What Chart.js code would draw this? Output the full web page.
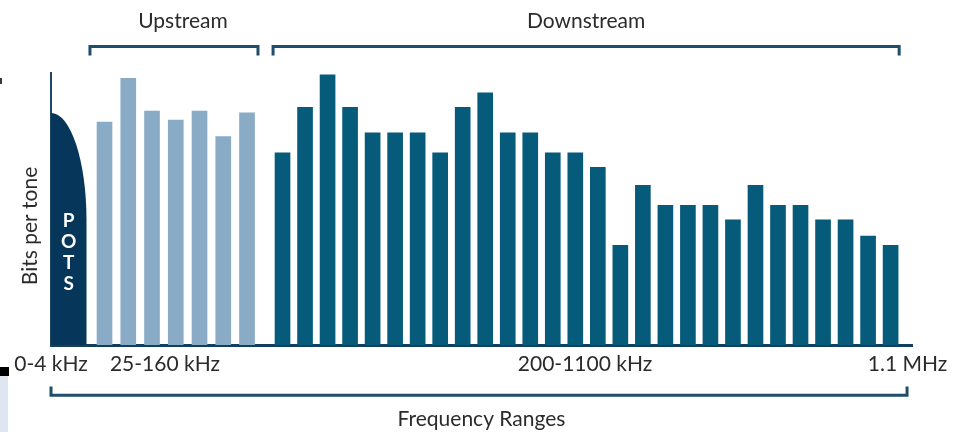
<!DOCTYPE html>
<html><head><meta charset="utf-8">
<script src="https://cdn.jsdelivr.net/npm/chart.js@4.4.1/dist/chart.umd.min.js"></script>
<style>
html,body{margin:0;padding:0;background:#fff;}
#wrap{position:relative;width:953px;height:432px;overflow:hidden;}
canvas{display:block;}
.art{position:absolute;}
</style></head><body>
<div id="wrap"><canvas id="c" width="953" height="432"></canvas>
<div class="art" style="left:0;top:367px;width:9px;height:9px;background:#000"></div>
<div class="art" style="left:0;top:376px;width:8px;height:56px;background:#dfe6f1"></div>
<div class="art" style="left:0;top:78px;width:2px;height:6px;background:#3a3a3a"></div>
</div>
<script>
// ---- data ----
const potsBits = 12.8;
const upstreamBits = [12.3, 14.7, 12.9, 12.4, 12.9, 11.5, 12.8];
const downstreamBits = [10.6, 13.1, 14.9, 13.1, 11.7, 11.7, 11.7, 10.6, 13.1, 13.9, 11.7, 11.7, 10.6, 10.6, 9.8,
                        5.5, 8.8, 7.7, 7.7, 7.7, 6.9, 8.8, 7.7, 7.7, 6.9, 6.9, 6.0, 5.5];
const xTickLabels = ['0-4 kHz', '25-160 kHz', '200-1100 kHz', '1.1 MHz'];
const groupLabels = ['Upstream', 'Downstream'];
const potsLabel = 'POTS';
const yTitle = 'Bits per tone';
const xTitle = 'Frequency Ranges';

// ---- layout (x in tone-spacing units) ----
const X_MAX = 38.23, Y_MAX = 15;
const UP_START = 2.376, UP_STEP = 1.0546, DOWN_START = 10.28, DOWN_STEP = 1;
const POTS_RIGHT = 1.576, POTS_KNEE = 6.9;
const TICK_POS = [0, 5.06, 23.71, 38.03];
const UP_BRACKET = [1.73, 9.19], DOWN_BRACKET = [9.86, 37.66], ALL_BRACKET = [0, 38.01];
const GROUP_LABEL_POS = [5.86, 23.76];
const FONT = 'Lato';
const TEXT = '#2b2b2b';
const LINE = '#1f4d6b';

const deco = {
  id: 'deco',
  beforeDatasetsDraw(chart) {
    const {ctx, scales: {x, y}} = chart;
    const x0 = x.getPixelForValue(0), x1 = x.getPixelForValue(POTS_RIGHT);
    const yTop = y.getPixelForValue(potsBits), yKnee = y.getPixelForValue(POTS_KNEE), yBase = y.getPixelForValue(0);
    ctx.save();
    ctx.fillStyle = '#06375a';
    ctx.beginPath();
    ctx.moveTo(x0, yBase);
    ctx.lineTo(x0, yTop);
    ctx.ellipse(x0, yKnee, x1 - x0, yKnee - yTop, 0, -Math.PI / 2, 0, false);
    ctx.lineTo(x1, yBase);
    ctx.closePath();
    ctx.fill();
    ctx.fillStyle = '#ffffff';
    ctx.font = 'bold 19px ' + FONT;
    ctx.textAlign = 'center';
    ctx.textBaseline = 'middle';
    const cx = (x0 + x1) / 2;
    potsLabel.split('').forEach((ch, i) => ctx.fillText(ch, cx, 221 + i * 21));
    ctx.restore();
  },
  afterDraw(chart) {
    const {ctx, scales: {x}} = chart;
    ctx.save();
    ctx.strokeStyle = LINE;
    ctx.lineWidth = 3;
    ctx.lineJoin = 'miter';
    const bracket = (a, b, yl, yt) => {
      const p = x.getPixelForValue(a), q = x.getPixelForValue(b);
      ctx.beginPath();
      ctx.moveTo(p, yt); ctx.lineTo(p, yl); ctx.lineTo(q, yl); ctx.lineTo(q, yt);
      ctx.stroke();
    };
    bracket(UP_BRACKET[0], UP_BRACKET[1], 46.5, 55.5);
    bracket(DOWN_BRACKET[0], DOWN_BRACKET[1], 46.5, 55.5);
    bracket(ALL_BRACKET[0], ALL_BRACKET[1], 395.3, 386.5);
    ctx.fillStyle = TEXT;
    ctx.font = '21px ' + FONT;
    ctx.textAlign = 'center';
    ctx.textBaseline = 'alphabetic';
    groupLabels.forEach((t, i) => ctx.fillText(t, x.getPixelForValue(GROUP_LABEL_POS[i]), 28));
    ctx.translate(36.5, 226);
    ctx.rotate(-Math.PI / 2);
    ctx.fillText(yTitle, 0, 0);
    ctx.restore();
  }
};

new Chart(document.getElementById('c'), {
  type: 'bar',
  data: {
    datasets: [
      {label: groupLabels[0], data: upstreamBits.map((v, i) => ({x: UP_START + i * UP_STEP, y: v})), backgroundColor: '#8aabc5'},
      {label: groupLabels[1], data: downstreamBits.map((v, i) => ({x: DOWN_START + i * DOWN_STEP, y: v})), backgroundColor: '#065b7b'}
    ]
  },
  options: {
    responsive: false,
    animation: false,
    layout: {padding: {top: 73, right: 41, left: 0, bottom: 0}},
    datasets: {bar: {barThickness: 15, grouped: false, borderWidth: 0}},
    plugins: {legend: {display: false}, tooltip: {enabled: false}},
    scales: {
      x: {
        type: 'linear', min: 0, max: X_MAX, offset: false, z: 1,
        grid: {display: false, drawTicks: false},
        border: {display: true, color: '#123f5e', width: 3},
        afterBuildTicks: ax => { ax.ticks = TICK_POS.map(v => ({value: v})); },
        afterFit: ax => { ax.paddingLeft = 0; ax.paddingRight = 0; ax.height = 87; },
        ticks: {autoSkip: false, maxRotation: 0, minRotation: 0, padding: 7, color: TEXT,
                font: {family: FONT, size: 21}, callback: (v, i) => xTickLabels[i]},
        title: {display: true, text: xTitle, color: TEXT, font: {family: FONT, size: 21}, padding: {top: 0, bottom: 0}}
      },
      y: {
        min: 0, max: Y_MAX, z: 1,
        grid: {display: false, drawTicks: false},
        ticks: {display: false},
        border: {display: true, color: '#1a4866', width: 2},
        afterFit: ax => { ax.width = 51; }
      }
    }
  },
  plugins: [deco]
});
</script>
</body></html>
